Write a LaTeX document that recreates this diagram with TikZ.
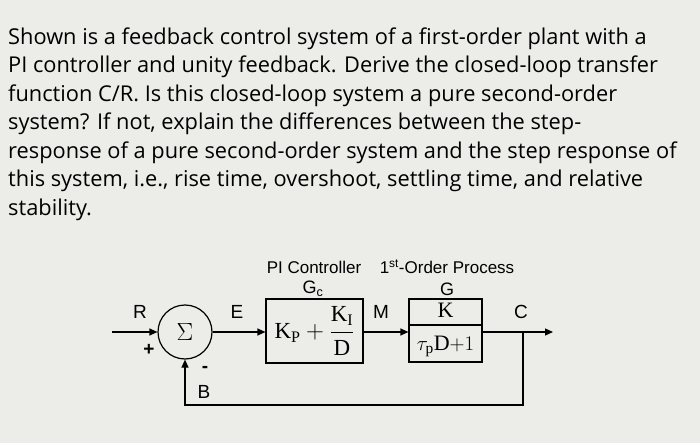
\documentclass[tikz,border=0pt]{standalone}
\usepackage{fontspec}
\setmainfont{Liberation Serif}
\newfontfamily\qfont{Open Sans}
\newfontfamily\afont{Liberation Sans}
\usetikzlibrary{arrows.meta}
\begin{document}
\begin{tikzpicture}[x=1pt,y=-1pt,
  qline/.style={anchor=base west,inner sep=0,font=\qfont\fontsize{21.8}{22}\selectfont},
  lab/.style={inner sep=0,font=\afont\fontsize{19}{19}\selectfont},
  blk/.style={draw,line width=1.2pt},
  sig/.style={line width=1.2pt,-{Triangle[length=8pt,width=7pt]}},
  wire/.style={line width=1.2pt}]
\fill[fill={rgb,255:red,236;green,236;blue,233}] (0,0) rectangle (700,443);
\useasboundingbox (0,0) rectangle (700,443);
\foreach \t [count=\i] in {
 {Shown is a feedback control system of a first-order plant with a},
 {PI controller and unity feedback. Derive the closed-loop transfer},
 {function C/R. Is this closed-loop system a pure second-order},
 {system? If not, explain the differences between the step-},
 {response of a pure second-order system and the step response of},
 {this system, i.e., rise time, overshoot, settling time, and relative},
 {stability.}}
 \node[qline] (q\i) at (8,{16+\i*28.5}) {\t};
\node[draw,line width=1.2pt,circle,minimum size=54pt,inner sep=0,font=\fontsize{24}{24}\selectfont] (s) at (185,332) {$\Sigma$};
\node[blk,minimum width=97pt,minimum height=64pt,inner sep=0] (gc) at (314.5,331) {};
\node[font=\fontsize{23}{23}\selectfont,inner sep=0] (gct) at (gc) {$\displaystyle\mathrm{K_P}+\frac{\mathrm{K_I}}{\mathrm{D}}$};
\node[blk,minimum width=73pt,minimum height=63pt,inner sep=0] (g) at (445.5,330.5) {};
\draw[wire] (g.west|-0,325) -- (g.east|-0,325);
\node[font=\fontsize{22}{22}\selectfont,inner sep=0] (gn) at (445.5,310) {K};
\node[font=\fontsize{22}{22}\selectfont,inner sep=0] (gd) at (445.5,346) {$\tau_{\mathrm{p}}\mathrm{D}{+}1$};
\coordinate (in) at (112,332);
\coordinate (out) at (553,332);
\coordinate (br) at (523,332);
\coordinate (bb) at (523,405);
\coordinate (bl) at (185,405);
\draw[sig] (in) -- (s);
\draw[sig] (s) -- (gc.west|-s);
\draw[sig] (gc.east|-s) -- (g.west|-s);
\draw[sig] (g.east|-s) -- (out);
\draw[sig] (br) -- (bb) -- (bl) -- (s.south);
\node[lab] (lR) at (140,312) {R};
\node[lab] (lp) at (149,350) {\textbf{+}};
\node[lab] (lE) at (237,312) {E};
\node[lab] (lM) at (381,312) {M};
\node[lab] (lC) at (521,312) {C};
\node[lab] (lB) at (204,392) {B};
\node[lab] (lm) at (205,369) {\textbf{-}};
\node[lab,font=\afont\fontsize{18}{18}\selectfont] (lGc) at (313,289) {G\textsubscript{c}};
\node[lab,font=\afont\fontsize{18}{18}\selectfont] (lG) at (447,289) {G};
\node[lab,font=\afont\fontsize{17}{17}\selectfont] (pi) at (314,267) {PI Controller};
\node[lab,font=\afont\fontsize{17}{17}\selectfont] (fo) at (447,267) {1\textsuperscript{st}-Order Process};
\end{tikzpicture}
\end{document}
